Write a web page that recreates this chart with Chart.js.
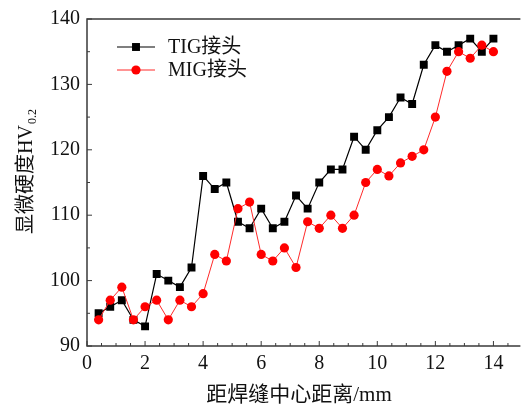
<!DOCTYPE html>
<html>
<head>
  <meta charset="utf-8">
  <title>显微硬度分布</title>
  <script src="https://cdn.jsdelivr.net/npm/chart.js"></script>
  <style>
    html, body {
      margin: 0;
      padding: 0;
      background: #fff;
      overflow: hidden;
    }
    #chart-container {
      width: 524px;
      height: 409px;
      position: relative;
    }
  </style>
</head>
<body>
  <div id="chart-container">
    <canvas id="myChart" width="524" height="409"></canvas>
  </div>
  <script>
    // Расстояние от центра шва, мм
    const distances = [0.4, 0.8, 1.2, 1.6, 2.0, 2.4, 2.8, 3.2, 3.6, 4.0, 4.4, 4.8, 5.2, 5.6, 6.0, 6.4, 6.8, 7.2,
      7.6, 8.0, 8.4, 8.8, 9.2, 9.6, 10.0, 10.4, 10.8, 11.2, 11.6, 12.0, 12.4, 12.8, 13.2, 13.6, 14.0];
    const tigValues = [95, 96, 97, 94, 93, 101, 100, 99, 102, 116, 114, 115, 109, 108, 111, 108, 109, 113,
      111, 115, 117, 117, 122, 120, 123, 125, 128, 127, 133, 136, 135, 136, 137, 135, 137];
    const migValues = [94, 97, 99, 94, 96, 97, 94, 97, 96, 98, 104, 103, 111, 112, 104, 103, 105, 102,
      109, 108, 110, 108, 110, 115, 117, 116, 118, 119, 120, 125, 132, 135, 134, 136, 135];
    const seriesNames = ['TIG接头', 'MIG接头'];
    const xTickLabels = [0, 2, 4, 6, 8, 10, 12, 14];
    const yTickLabels = [90, 100, 110, 120, 130, 140];
    const xTitle = '距焊缝中心距离/mm';
    const yTitle = '显微硬度HV';
    const yTitleSub = '0.2';

    const serif = '"Liberation Serif", "Noto Sans CJK SC", serif';

    // рамка, внутренние засечки, легенда и подписи осей
    const decorPlugin = {
      id: 'decor',
      afterDraw(chart) {
        const ctx = chart.ctx;
        const area = chart.chartArea;
        const xs = chart.scales.x;
        const ys = chart.scales.y;
        ctx.save();

        // рамка
        ctx.strokeStyle = '#3a3a3a';
        ctx.lineWidth = 1.5;
        ctx.beginPath();
        ctx.moveTo(area.right + 2, area.top);
        ctx.lineTo(area.left, area.top);
        ctx.lineTo(area.left, area.bottom);
        ctx.lineTo(area.right + 2, area.bottom);
        ctx.stroke();

        // засечки внутрь
        ctx.lineWidth = 1;
        ctx.beginPath();
        for (let v = 0; v <= xs.max; v += 0.5) {
          const px = xs.getPixelForValue(v);
          const len = (v % 2 === 0) ? 5 : 3;
          ctx.moveTo(px, area.bottom);
          ctx.lineTo(px, area.bottom - len);
        }
        for (let v = ys.min; v <= ys.max; v += 5) {
          const py = ys.getPixelForValue(v);
          const len = (v % 10 === 0) ? 5 : 3;
          ctx.moveTo(area.left, py);
          ctx.lineTo(area.left + len, py);
        }
        ctx.stroke();

        // легенда
        const legendY = [47, 70];
        chart.data.datasets.forEach((ds, i) => {
          const y = legendY[i];
          ctx.strokeStyle = ds.borderColor;
          ctx.lineWidth = ds.borderWidth;
          ctx.beginPath();
          ctx.moveTo(117, y);
          ctx.lineTo(155, y);
          ctx.stroke();
          ctx.fillStyle = ds.pointBackgroundColor;
          if (ds.pointStyle === 'rect') {
            const s = ds.pointRadius * Math.SQRT1_2;
            ctx.fillRect(136 - s, y - s, 2 * s, 2 * s);
          } else {
            ctx.beginPath();
            ctx.arc(136, y, ds.pointRadius, 0, Math.PI * 2);
            ctx.fill();
          }
          ctx.fillStyle = '#111';
          ctx.font = '20px ' + serif;
          ctx.textAlign = 'left';
          ctx.textBaseline = 'middle';
          ctx.fillText(ds.label, 168, y + 1);
        });

        // подпись оси X
        ctx.fillStyle = '#111';
        ctx.font = '21px ' + serif;
        ctx.textAlign = 'center';
        ctx.textBaseline = 'middle';
        ctx.fillText(xTitle, 299, 395);

        // подпись оси Y с индексом
        ctx.translate(25, 172);
        ctx.rotate(-Math.PI / 2);
        ctx.font = '20px ' + serif;
        const wMain = ctx.measureText(yTitle).width;
        ctx.font = '12px ' + serif;
        const wSub = ctx.measureText(yTitleSub).width;
        const start = -(wMain + wSub) / 2;
        ctx.textAlign = 'left';
        ctx.textBaseline = 'alphabetic';
        ctx.font = '20px ' + serif;
        ctx.fillText(yTitle, start, 7);
        ctx.font = '12px ' + serif;
        ctx.fillText(yTitleSub, start + wMain + 1, 11);

        ctx.restore();
      }
    };

    const ctx = document.getElementById('myChart').getContext('2d');
    const chart = new Chart(ctx, {
      type: 'line',
      data: {
        datasets: [{
          label: seriesNames[0],
          data: distances.map((d, i) => ({ x: d, y: tigValues[i] })),
          borderColor: '#000000',
          backgroundColor: '#000000',
          pointBackgroundColor: '#000000',
          pointBorderColor: '#000000',
          pointStyle: 'rect',
          pointRadius: 5.6,
          pointBorderWidth: 0,
          borderWidth: 1.2,
          tension: 0,
          order: 2
        }, {
          label: seriesNames[1],
          data: distances.map((d, i) => ({ x: d, y: migValues[i] })),
          borderColor: '#ff2a2a',
          backgroundColor: '#ff0000',
          pointBackgroundColor: '#ff0000',
          pointBorderColor: '#ff0000',
          pointStyle: 'circle',
          pointRadius: 4.6,
          pointBorderWidth: 0,
          borderWidth: 1,
          tension: 0,
          order: 1
        }]
      },
      options: {
        responsive: false,
        animation: false,
        maintainAspectRatio: false,
        layout: {
          padding: { top: 18, left: 0, right: 0, bottom: 0 }
        },
        plugins: {
          legend: { display: false },
          tooltip: { enabled: false }
        },
        scales: {
          x: {
            type: 'linear',
            min: 0,
            max: 14.86,
            afterFit(scale) { scale.height = 63; },
            grid: { display: false, drawTicks: false },
            border: { display: false },
            ticks: {
              stepSize: 2,
              includeBounds: false,
              autoSkip: false,
              maxRotation: 0,
              padding: 6,
              color: '#111',
              font: { family: serif, size: 20 },
              callback: (v) => xTickLabels.includes(v) ? v : ''
            }
          },
          y: {
            min: 90,
            max: 140,
            afterFit(scale) { scale.width = 87; },
            grid: { display: false, drawTicks: false },
            border: { display: false },
            ticks: {
              stepSize: 10,
              padding: 7,
              color: '#111',
              font: { family: serif, size: 20 },
              callback: (v) => yTickLabels.includes(v) ? v : ''
            }
          }
        }
      },
      plugins: [decorPlugin]
    });
  </script>
</body>
</html>
